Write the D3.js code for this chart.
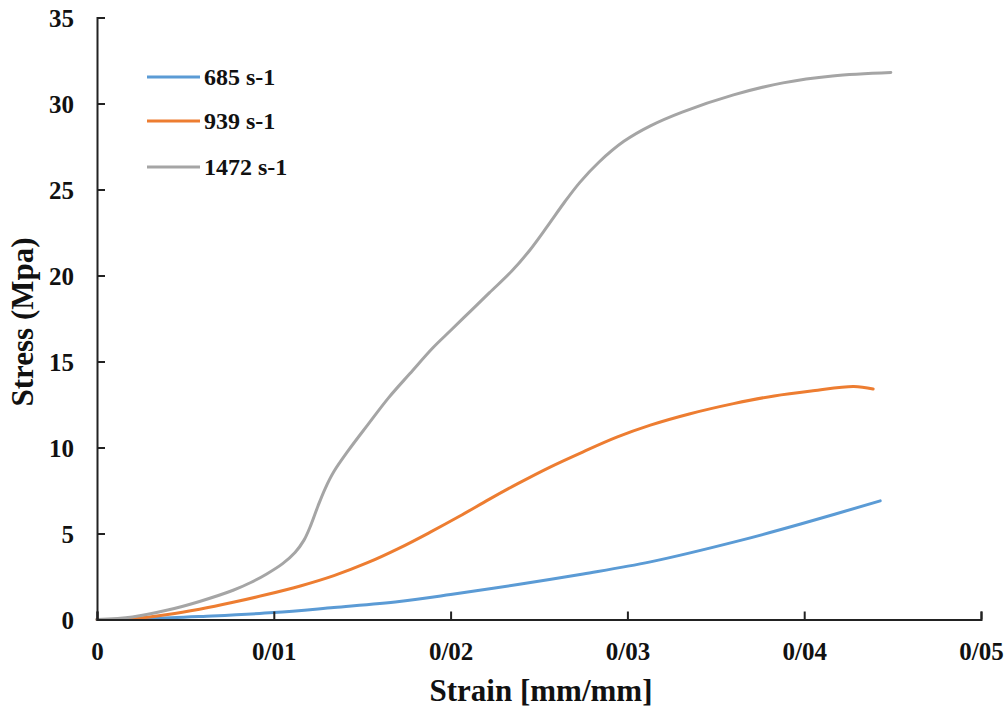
<!DOCTYPE html>
<html>
<head>
<meta charset="utf-8">
<script src="https://cdn.jsdelivr.net/npm/d3@7"></script>
<style>
  body { margin: 0; background: #fff; }
  svg { display: block; font-family: "Liberation Serif", "Times New Roman", serif; font-weight: bold; }
</style>
</head>
<body>
<div id="chart"></div>
<script>
// DATA
var strain685 = [0, 0.003, 0.006, 0.010, 0.0134, 0.0171, 0.020, 0.0238, 0.0275, 0.0313, 0.0364, 0.0398, 0.0443]
var stress685 = [0, 0.05, 0.18, 0.4, 0.7, 1.05, 1.45, 2.03, 2.65, 3.35, 4.6, 5.55, 6.9]

var strain939 = [0, 0.002, 0.004, 0.0058, 0.0077, 0.0096, 0.0115, 0.0134, 0.0153, 0.0171, 0.0188, 0.0205, 0.0222, 0.0238, 0.0256, 0.0275, 0.0294, 0.0313, 0.0335, 0.036, 0.0383, 0.0405, 0.0428, 0.0439]
var stress939 = [0, 0.05, 0.29, 0.6, 1.0, 1.45, 1.95, 2.55, 3.3, 4.15, 5.05, 6.0, 7.0, 7.9, 8.85, 9.75, 10.6, 11.3, 11.95, 12.55, 13.0, 13.3, 13.55, 13.4]

var strain1472 = [0, 0.002, 0.004, 0.0058, 0.0077, 0.0087, 0.0096, 0.0105, 0.0112, 0.0117, 0.0121, 0.0125, 0.0129, 0.0134, 0.0142, 0.0153, 0.0165, 0.0177, 0.019, 0.020, 0.0211, 0.0222, 0.0235, 0.0245, 0.0255, 0.0264, 0.0273, 0.0284, 0.0298, 0.0313, 0.0331, 0.036, 0.0388, 0.0416, 0.0449]
var stress1472 = [0, 0.15, 0.55, 1.05, 1.7, 2.15, 2.65, 3.25, 3.9, 4.6, 5.5, 6.6, 7.6, 8.6, 9.8, 11.3, 12.9, 14.3, 15.8, 16.8, 17.9, 19.0, 20.3, 21.5, 22.9, 24.2, 25.4, 26.6, 27.8, 28.7, 29.5, 30.5, 31.2, 31.6, 31.8]

var seriesNames = ['685 s-1', '939 s-1', '1472 s-1']
var seriesColors = ['#5b9bd5', '#ed7d31', '#a5a5a5']

var xTicks = [0, 0.01, 0.02, 0.03, 0.04, 0.05]
var xTickLabels = ['0', '0/01', '0/02', '0/03', '0/04', '0/05']
var yTicks = [0, 5, 10, 15, 20, 25, 30, 35]

var series = [
  d3.zip(strain685, stress685),
  d3.zip(strain939, stress939),
  d3.zip(strain1472, stress1472)
]

// SIZING
var W = 1008, H = 713
var margin = { top: 17.5, right: 27, bottom: 93.5, left: 97 }
var width = W - margin.left - margin.right
var height = H - margin.top - margin.bottom

var svg = d3.select('#chart')
  .append('svg')
  .attr('width', W)
  .attr('height', H)

var g = svg.append('g')
  .attr('transform', 'translate(' + margin.left + ',' + margin.top + ')')

// SCALES
var x = d3.scaleLinear().domain([0, 0.05]).range([0, width])
var y = d3.scaleLinear().domain([0, 35]).range([height, 0])

// LINES
var line = d3.line()
  .x(function(d) { return x(d[0]) })
  .y(function(d) { return y(d[1]) })
  .curve(d3.curveCatmullRom.alpha(0.5))

g.selectAll('path.series')
  .data(series)
  .enter()
  .append('path')
  .attr('class', 'series')
  .attr('d', line)
  .attr('fill', 'none')
  .attr('stroke', function(d, i) { return seriesColors[i] })
  .attr('stroke-width', 3)
  .attr('stroke-linecap', 'round')

// X-AXIS (ticks point inward)
var xAxis = g.append('g')
  .attr('transform', 'translate(0,' + height + ')')
  .call(d3.axisTop(x).tickValues(xTicks).tickFormat(function(d, i) { return xTickLabels[i] }).tickSizeOuter(0).tickSize(8))
xAxis.select('.domain').attr('stroke', '#222').attr('stroke-width', 2)
xAxis.selectAll('.tick line').attr('stroke', '#222').attr('stroke-width', 2)
xAxis.selectAll('.tick text')
  .attr('y', 40)
  .attr('dy', 0)
  .attr('font-size', 25)
  .attr('fill', '#111')
  .style('font-family', '"Liberation Serif", "Times New Roman", serif')
  .style('font-weight', 'bold')

// Y-AXIS (ticks point inward)
var yAxis = g.append('g')
  .call(d3.axisRight(y).tickValues(yTicks).tickSizeOuter(0).tickSize(8))
yAxis.select('.domain').attr('stroke', '#222').attr('stroke-width', 2)
yAxis.selectAll('.tick line').attr('stroke', '#222').attr('stroke-width', 2)
yAxis.selectAll('.tick text')
  .attr('x', -23)
  .attr('dy', '0.34em')
  .attr('text-anchor', 'end')
  .attr('font-size', 25)
  .attr('fill', '#111')
  .style('font-family', '"Liberation Serif", "Times New Roman", serif')
  .style('font-weight', 'bold')

// AXIS TITLES
svg.append('text')
  .attr('x', 541)
  .attr('y', 701)
  .attr('text-anchor', 'middle')
  .attr('font-size', 31)
  .attr('fill', '#111')
  .text('Strain [mm/mm]')

svg.append('text')
  .attr('transform', 'translate(33,322) rotate(-90)')
  .attr('text-anchor', 'middle')
  .attr('font-size', 31)
  .attr('fill', '#111')
  .text('Stress (Mpa)')

// LEGEND
var legendY = [77, 121, 167]
var legend = svg.selectAll('g.legend')
  .data(seriesNames)
  .enter()
  .append('g')
  .attr('class', 'legend')
  .attr('transform', function(d, i) { return 'translate(147,' + legendY[i] + ')' })

legend.append('line')
  .attr('x1', 0)
  .attr('x2', 53)
  .attr('stroke', function(d, i) { return seriesColors[i] })
  .attr('stroke-width', 3)

legend.append('text')
  .attr('x', 57)
  .attr('dy', '0.33em')
  .attr('font-size', 24)
  .attr('fill', '#111')
  .text(function(d) { return d })
</script>
</body>
</html>
